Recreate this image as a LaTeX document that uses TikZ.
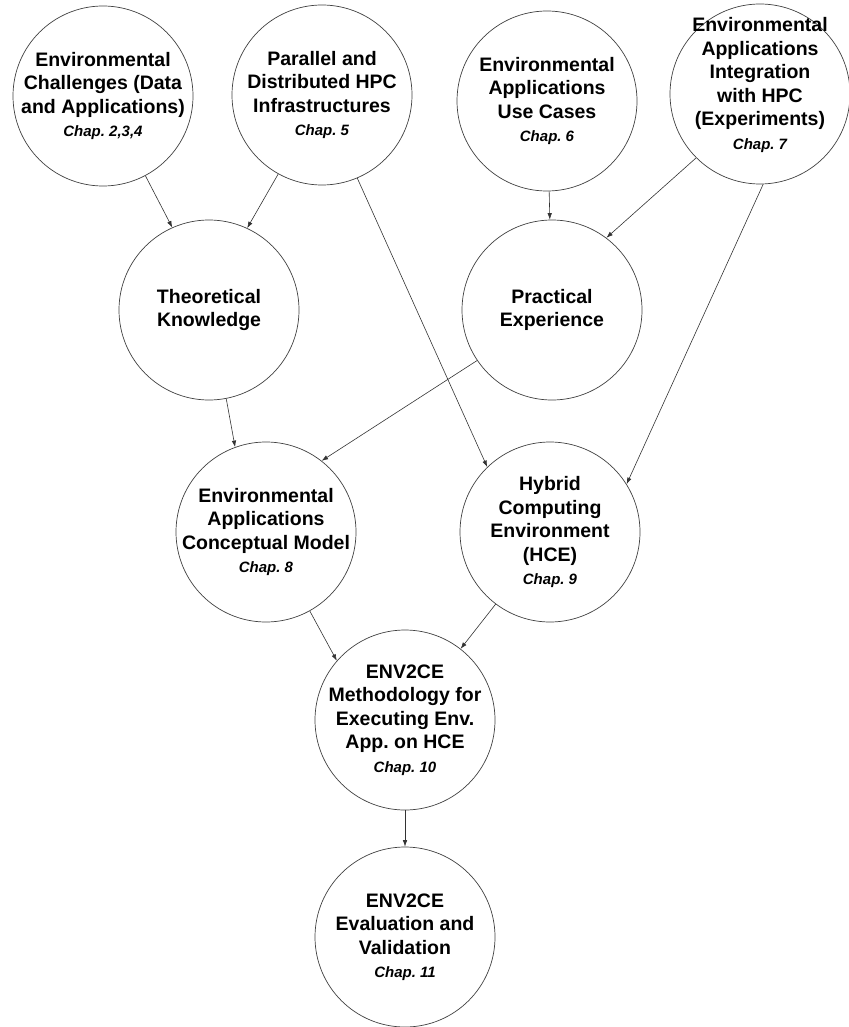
\documentclass[tikz,border=0pt]{standalone}
\usepackage{fontspec}
\setmainfont{Liberation Sans}
\usepackage{tikz}
\usetikzlibrary{arrows.meta}
\frenchspacing
\newcommand*{\wMax}{848}
\newcommand*{\hMax}{1027}
\newcommand*{\chap}[1]{\\{\fontsize{15}{17}\selectfont\itshape #1}}

\begin{document}
\begin{tikzpicture}[x=1pt,y=-1pt,
	ring/.style={circle,draw=black!75,line width=0.7pt,minimum size=180pt,inner sep=0pt},
	txt/.style={align=center,inner sep=0pt,font={\fontsize{19.5}{23.5}\selectfont\bfseries}},
	flow/.style={-{Latex[length=6.5pt,width=4.5pt]},line width=0.6pt,draw=black!80}]
	\useasboundingbox (0,0) rectangle (\wMax,\hMax);

	% circles
	\node[ring] (envchal) at (103,96) {};
	\node[ring] (hpcinfra) at (322,95) {};
	\node[ring] (usecase) at (547,101) {};
	\node[ring] (integ) at (760,94) {};
	\node[ring] (theory) at (209,310) {};
	\node[ring] (practice) at (552,310) {};
	\node[ring] (model) at (266,532) {};
	\node[ring] (hce) at (550,532) {};
	\node[ring] (method) at (405,720) {};
	\node[ring] (evalval) at (405,937) {};

	% texts
	\node[txt] (envchal-t) at (envchal) {Environmental\\Challenges (Data\\and Applications)\chap{Chap. 2,3,4}};
	\node[txt] (hpcinfra-t) at (hpcinfra) {Parallel and\\Distributed HPC\\Infrastructures\chap{Chap. 5}};
	\node[txt] (usecase-t) at (usecase) {Environmental\\Applications\\Use Cases\chap{Chap. 6}};
	\node[txt] (integ-t) at ([yshift=9pt]integ) {Environmental\\Applications\\Integration\\with HPC\\(Experiments)\chap{Chap. 7}};
	\node[txt] (theory-t) at (theory) {Theoretical\\Knowledge};
	\node[txt] (practice-t) at (practice) {Practical\\Experience};
	\node[txt] (model-t) at (model) {Environmental\\Applications\\Conceptual Model\chap{Chap. 8}};
	\node[txt] (hce-t) at (hce) {Hybrid\\Computing\\Environment\\(HCE)\chap{Chap. 9}};
	\node[txt] (method-t) at (method) {ENV2CE\\Methodology for\\Executing Env.\\App. on HCE\chap{Chap. 10}};
	\node[txt] (evalval-t) at (evalval) {ENV2CE\\Evaluation and\\Validation\chap{Chap. 11}};

	% arrows
	\foreach \a/\b in {envchal.-62/theory.114, hpcinfra.-119/theory.65, hpcinfra.-67/hce.134,
		usecase/practice, integ.-135/practice.53, integ.-88/hce.32,
		theory.-79/model.110, practice.-146/model.52,
		model.-61/method.139, hce.-127/method.52, method/evalval} {
		\draw[flow] (\a) -- (\b);
	}

\end{tikzpicture}
\end{document}
